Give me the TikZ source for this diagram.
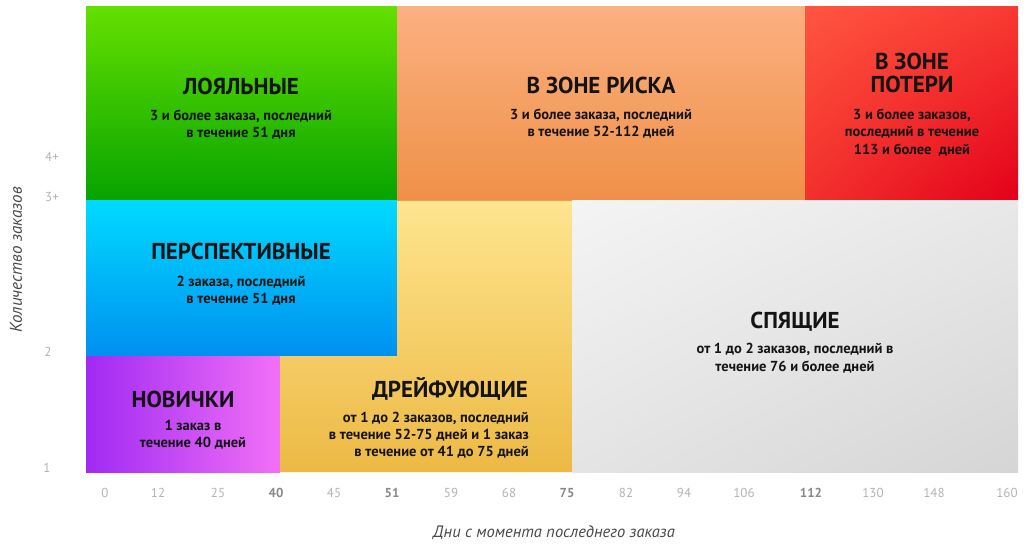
\documentclass[tikz,border=0pt]{standalone}
\usepackage{fontspec}
\usetikzlibrary{shadings}
\setmainfont{PT Sans}
\definecolor{grnT}{HTML}{64E000}
\definecolor{grnB}{HTML}{06A300}
\definecolor{orgT}{HTML}{FBB080}
\definecolor{orgB}{HTML}{EF9048}
\definecolor{redUL}{HTML}{FF5540}
\definecolor{redUR}{HTML}{F83A32}
\definecolor{redLL}{HTML}{F2302C}
\definecolor{redLR}{HTML}{E3001A}
\definecolor{bluT}{HTML}{00DAFF}
\definecolor{bluB}{HTML}{0090F0}
\definecolor{purL}{HTML}{A02AF3}
\definecolor{purR}{HTML}{F270F7}
\definecolor{yelT}{HTML}{FEE58F}
\definecolor{yelB}{HTML}{EDB944}
\definecolor{gryUL}{HTML}{F4F4F4}
\definecolor{gryUR}{HTML}{E8E8E8}
\definecolor{gryLL}{HTML}{E4E4E4}
\definecolor{gryLR}{HTML}{D5D5D5}
\definecolor{ink}{HTML}{141414}
\definecolor{axl}{HTML}{B4B4B4}
\definecolor{axb}{HTML}{888888}
\definecolor{axt}{HTML}{4A4A4A}
\begin{document}
\begin{tikzpicture}[x=1pt,y=-1pt,
  ttl/.style={font=\bfseries\fontsize{23}{26}\selectfont, text=ink, inner sep=0pt, anchor=base},
  sub/.style={font=\bfseries\fontsize{14.5}{17}\selectfont, text=ink, inner sep=0pt, anchor=base},
  subr/.style={sub, anchor=base east},
  tick/.style={font=\fontsize{13}{15}\selectfont, text=axl, inner sep=0pt},
  btick/.style={font=\bfseries\fontsize{13}{15}\selectfont, text=axb, inner sep=0pt},
  axtitle/.style={font=\itshape\fontsize{16.5}{19}\selectfont, text=axt, inner sep=0pt}]
\useasboundingbox (0,0) rectangle (1028,548);
\fill[white] (0,0) rectangle (1028,548);
% regions
\shade[top color=grnT, bottom color=grnB] (86,7) rectangle (397,201);
\shade[top color=orgT, bottom color=orgB] (397,7) rectangle (805,201);
\shade[upper left=redUL, upper right=redUR, lower left=redLL, lower right=redLR] (805,7) rectangle (1018,201);
\shade[top color=bluT, bottom color=bluB] (86,201) rectangle (397,356);
\shade[left color=purL, right color=purR] (86,356) rectangle (280,472);
\begin{scope}
  \clip (397,201) -- (572,201) -- (572,472) -- (280,472) -- (280,356) -- (397,356) -- cycle;
  \shade[top color=yelT, bottom color=yelB] (280,201) rectangle (572,472);
\end{scope}
\shade[upper left=gryUL, upper right=gryUR, lower left=gryLL, lower right=gryLR] (572,201) rectangle (1018,472);
% texts
\node[ttl] (t1) at (241,95) {ЛОЯЛЬНЫЕ};
\node[sub] (s1a) at (241,121) {3 и более заказа, последний};
\node[sub] (s1b) at (241,138) {в течение 51 дня};
\node[ttl] (t2) at (601,94) {В ЗОНЕ РИСКА};
\node[sub] (s2a) at (601,120) {3 и более заказа, последний};
\node[sub] (s2b) at (601,137) {в течение 52-112 дней};
\node[ttl] (t3a) at (912,70) {В ЗОНЕ};
\node[ttl] (t3b) at (912,93) {ПОТЕРИ};
\node[sub] (s3a) at (912,120) {3 и более заказов,};
\node[sub] (s3b) at (912,137) {последний в течение};
\node[sub] (s3c) at (912,155) {113 и более~ дней};
\node[ttl] (t4) at (241,259) {ПЕРСПЕКТИВНЫЕ};
\node[sub] (s4a) at (241,286) {2 заказа, последний};
\node[sub] (s4b) at (241,303) {в течение 51 дня};
\node[ttl] (t5) at (183,407) {НОВИЧКИ};
\node[sub] (s5a) at (193,430) {1 заказ в};
\node[sub] (s5b) at (193,447) {течение 40 дней};
\node[ttl] (t6) at (450,397) {ДРЕЙФУЮЩИЕ};
\node[subr] (s6a) at (529,422) {от 1 до 2 заказов, последний};
\node[subr] (s6b) at (529,439) {в течение 52-75 дней и 1 заказ};
\node[subr] (s6c) at (529,456) {в течение от 41 до 75 дней};
\node[ttl] (t7) at (795,328) {СПЯЩИЕ};
\node[sub] (s7a) at (795,353) {от 1 до 2 заказов, последний в};
\node[sub] (s7b) at (795,371) {течение 76 и более дней};
% y axis
\node[tick] (y4) at (52,157) {4+};
\node[tick] (y3) at (52,197) {3+};
\node[tick] (y2) at (48,352) {2};
\node[tick] (y1) at (47,468) {1};
\node[axtitle, rotate=90, font=\itshape\fontsize{17}{19}\selectfont] (ytitle) at (16,260) {Количество заказов};
% x axis
\node[tick] (x0) at (105,493) {0};
\node[tick] (x12) at (158,493) {12};
\node[tick] (x25) at (218,493) {25};
\node[btick] (x40) at (276,493) {40};
\node[tick] (x45) at (334,493) {45};
\node[btick] (x51) at (392,493) {51};
\node[tick] (x59) at (451,493) {59};
\node[tick] (x68) at (509,493) {68};
\node[btick] (x75) at (567,493) {75};
\node[tick] (x82) at (626,493) {82};
\node[tick] (x94) at (684,493) {94};
\node[tick] (x106) at (744,493) {106};
\node[btick] (x112) at (811,493) {112};
\node[tick] (x130) at (873,493) {130};
\node[tick] (x148) at (934,493) {148};
\node[tick] (x160) at (1007,493) {160};
\node[axtitle] (xtitle) at (554,533) {Дни с момента последнего заказа};
\end{tikzpicture}
\end{document}
